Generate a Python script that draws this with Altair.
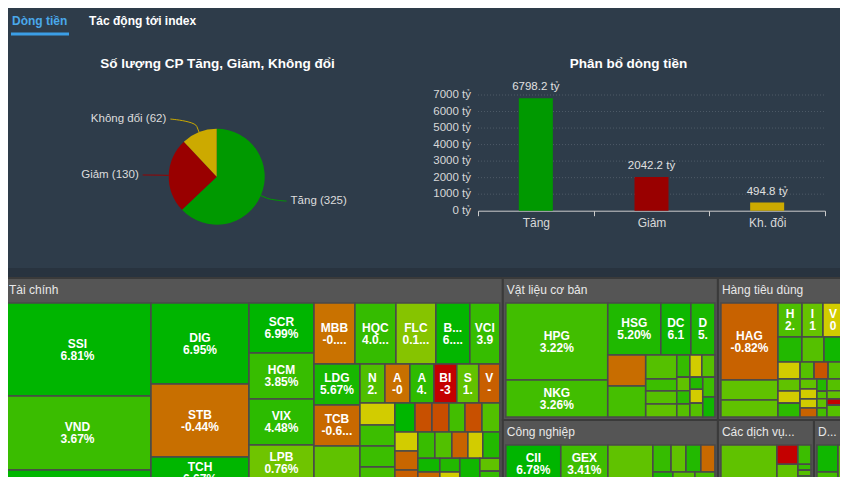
import math
import altair as alt
import pandas as pd

FONT = "Liberation Sans"
BG = "#2e3c4a"

# ---------------- data ----------------
TABS = ["Dòng tiền", "Tác động tới index"]

PIE_TITLE = "Số lượng CP Tăng, Giảm, Không đổi"
PIE_CATS = ["Tăng", "Giảm", "Không đổi"]
PIE_COUNTS = [325, 130, 62]

BAR_TITLE = "Phân bổ dòng tiền"
BAR_CATS = ["Tăng", "Giảm", "Kh. đổi"]
BAR_VALUES = [6798.2, 2042.2, 494.8]
BAR_TICKS = [0, 1000, 2000, 3000, 4000, 5000, 6000, 7000]
FLOW_COLORS = ["#009900", "#990000", "#ccaa00"]

SECTOR_NAMES = ["Tài chính", "Vật liệu cơ bản", "Hàng tiêu dùng",
                "Công nghiệp", "Các dịch vụ...", "D..."]
SECTOR_GROUPS = ("h", [0, ("v", [("h", [1, 2]), ("h", [3, 4, 5])])])

TC_LABELS = ["SSI\n6.81%", "VND\n3.67%", "", "DIG\n6.95%", "STB\n-0.44%", "TCH\n6.67%", "",
             "SCR\n6.99%", "HCM\n3.85%", "VIX\n4.48%", "LPB\n0.76%", "",
             "MBB\n-0....", "HQC\n4.0...", "FLC\n0.1...", "B...\n6....", "VCI\n3.9",
             "LDG\n5.67%", "TCB\n-0.6...", "",
             "N\n2.", "A\n-0", "A\n4.", "BI\n-3", "S\n1.", "V\n-"] + [""] * 30
TC_PCT = [6.81, 3.67, 6.5, 6.95, -0.44, 6.67, 3.0, 6.99, 3.85, 4.48, 0.76, 3.0,
          -0.3, 4.0, 0.1, 6.4, 3.9, 5.67, -0.6, 1.5, 2.4, -0.4, 4.4, -3.0, 1.4, -0.9,
          0.0, 3.5, 3.6, 3.0,
          6.5, -1.3, -1.4, 3.2, -1.3, 2.2,
          0.0, -0.7, -0.9, 3.0,
          3.8, 2.2, -0.8, 0.0, 5.0,
          6.0, -0.6, 3.0, 5.0, 0.0, 2.0, 6.0, 2.5, 1.5, 4.0, 3.0]
TC_VALUES = [153.1, 121.8, 156.4, 88.9, 80.1, 35.1, 83.4, 36.4, 33.5, 33.5, 26.2, 61.2,
             28.0, 28.0, 27.3, 23.2, 20.5, 21.1, 21.1, 61.3,
             10.9, 10.9, 10.5, 10.0, 9.6, 9.2,
             8.6, 8.2, 8.2, 38.4,
             6.5, 5.5, 5.5, 5.2, 5.5, 5.8,
             4.9, 4.9, 4.6, 19.8,
             5.0, 5.0, 4.7, 4.4, 5.0,
             3.4, 3.2, 19.7, 3.1, 2.7, 18.1, 5.6, 18.4, 2.9, 3.1, 17.9]
TC_GROUPS = ("h", [
    ("v", [0, 1, 2]),
    ("v", [3, 4, 5, 6]),
    ("v", [7, 8, 9, 10, 11]),
    ("v", [
        ("h", [12, 13, 14, 15, 16]),
        ("h", [
            ("v", [17, 18, 19]),
            ("v", [
                ("h", [20, 21, 22, 23, 24, 25]),
                ("h", [
                    ("v", [26, 27, 28, 29]),
                    ("v", [
                        ("h", [30, 31, 32, 33, 34, 35]),
                        ("h", [
                            ("v", [36, 37, 38, 39]),
                            ("v", [
                                ("h", [40, 41, 42, 43, 44]),
                                ("h", [("v", [45, 46, 47]), ("v", [48, 49, 50]),
                                       ("v", [51, 52]), ("v", [53, 54, 55])]),
                            ]),
                        ]),
                    ]),
                ]),
            ]),
        ]),
    ]),
])

VL_LABELS = ["HPG\n3.22%", "NKG\n3.26%", "HSG\n5.20%", "DC\n6.1", "D\n5."] + [""] * 17
VL_PCT = [3.22, 3.26, 5.20, 6.1, 5.5, -0.5, 3.0, 2.0, 3.5, 2.0, 1.5, 4.0, 0.0, 2.0,
          1.5, 4.5, 2.0, 5.0, 0.0, 2.0, 3.5, 6.0]
VL_VALUES = [100.6, 48.3, 35.3, 20.0, 16.0, 15.1, 15.1, 9.5, 4.8, 5.2, 5.2, 3.7, 3.4, 3.7,
             2.3, 2.2, 2.2, 2.0, 2.3, 2.3, 3.1, 3.1]
VL_GROUPS = ("h", [("v", [0, 1]),
                   ("v", [("h", [2, 3, 4]),
                          ("h", [("v", [5, 6]), ("v", [7, 8, 9, 10]),
                                 ("v", [("h", [11, 12, 13]),
                                        ("h", [("v", [14, 15, 16]), ("v", [17, 18, 19]),
                                               ("v", [20, 21])])])])])])

HT_LABELS = ["HAG\n-0.82%", "", "", "H\n2.", "I\n1", "V\n0"] + [""] * 22
HT_PCT = [-0.82, 1.5, 1.5, 2.5, 1.2, 0.0, 5.0, 2.0, 6.0, 0.0, 2.0, -1.2, 2.0,
          1.5, 0.0, 4.5, 1.5, 0.0, 0.0, -0.8, 5.0, 2.0, 1.5, 3.0, 2.0, 1.5, -3.0, 2.0]
HT_VALUES = [57.4, 14.9, 12.7, 10.7, 9.3, 8.9, 7.8, 7.2, 6.2, 4.9, 3.1, 3.1, 3.3,
             3.5, 3.5, 4.0, 2.2, 2.2, 2.0, 2.0, 1.6, 1.0, 1.2, 1.2, 2.5, 1.7, 1.3, 2.5]
HT_GROUPS = ("h", [("v", [0, 1, 2]),
                   ("v", [("h", [3, 4, 5]), ("h", [6, 7, 8]), ("h", [9, 10, 11, 12]),
                          ("h", [("v", [13, 14, 15]),
                                 ("h", [("v", [16, 17, 18, 19]), ("v", [20, 21, 22, 23]),
                                        ("v", [24, 25, 26, 27])])])])])

CN_LABELS = ["CII\n6.78%", "GEX\n3.41%"] + [""] * 13
CN_PCT = [6.78, 3.41, 5.0, 2.0, 1.5, 3.0, 4.0, 1.5, 5.0, -0.6, 5.5, 2.0, 2.0, 4.0, 3.0]
CN_VALUES = [26.5, 22.7, 52.0, 54.1, 22.8, 45.7, 6.2, 5.1, 5.1, 4.8, 3.0, 20.6, 2.8, 23.2, 23.6]
CN_GROUPS = ("h", [("v", [("h", [0, 1]), ("h", [2, 3])]),
                   ("v", [4, 5]),
                   ("v", [("h", [6, 7, 8, 9]), ("h", [("v", [10, 11]), ("v", [12, 13]), 14])])])

DV_LABELS = [""] * 8
DV_PCT = [1.5, -3.0, 3.5, 1.5, 4.0, 2.0, 5.0, 2.0]
DV_VALUES = [88.4, 5.3, 3.3, 27.9, 1.0, 1.0, 1.0, 14.2]
DV_GROUPS = ("h", [0, ("v", [("h", [1, 2]), ("h", [3, ("v", [4, 5, 6, 7])])])])

DD_LABELS = ["", "", ""]
DD_PCT = [6.0, 3.0, 2.0]
DD_VALUES = [8.6, 29.7, 9.1]
DD_GROUPS = ("h", [("v", [0, 1]), 2])

PCT_STOPS = [-3.0, -1.3, -0.4, -0.05, 0.0, 0.1, 0.8, 2.0, 3.5, 5.0, 6.5]
PCT_COLORS = ["#c40000", "#c85000", "#c87000", "#cc7800", "#d2cc00", "#86c400",
              "#6ec400", "#55c000", "#3cbe00", "#22b900", "#00b600"]

# ---------------- layout helpers ----------------
W, H = 832, 469            # chart size (page minus 8px margin)
TM_W, TM_H = 845, 290      # treemap own unit box
TM_X0 = -7                 # treemap box left edge in chart pixels


def tree_sum(node, vals):
    if isinstance(node, int):
        return vals[node]
    return sum(tree_sum(k, vals) for k in node[1])


def place(node, vals, x, y, w, h, out):
    if isinstance(node, int):
        out[node] = (x, y, w, h)
        return
    d, kids = node
    tot = tree_sum(node, vals)
    acc = 0.0
    for k in kids:
        f = tree_sum(k, vals) / tot
        if d == "h":
            place(k, vals, x + acc * w, y, f * w, h, out)
        else:
            place(k, vals, x, y + acc * h, w, f * h, out)
        acc += f


sectors = [
    (TC_LABELS, TC_PCT, TC_VALUES, TC_GROUPS),
    (VL_LABELS, VL_PCT, VL_VALUES, VL_GROUPS),
    (HT_LABELS, HT_PCT, HT_VALUES, HT_GROUPS),
    (CN_LABELS, CN_PCT, CN_VALUES, CN_GROUPS),
    (DV_LABELS, DV_PCT, DV_VALUES, DV_GROUPS),
    (DD_LABELS, DD_PCT, DD_VALUES, DD_GROUPS),
]
sec_vals = [sum(s[2]) for s in sectors]
sec_pos = {}
place(SECTOR_GROUPS, sec_vals, 0, 0, TM_W, TM_H, sec_pos)

frame_rows, head_rows, tile_rows = [], [], []
for i, (labs, pcts, vals, groups) in enumerate(sectors):
    sx, sy, sw, sh = sec_pos[i]
    frame_rows.append({"x0": sx, "x1": sx + sw, "y0": sy, "y1": sy + sh})
    # keep header text inside the visible page area
    head_rows.append({"hx": max(sx + 4, 1 - TM_X0), "hy": sy + 12, "name": SECTOR_NAMES[i]})
    tp = {}
    place(groups, vals, sx + 3, sy + 25, sw - 6, sh - 28, tp)
    for j in range(len(vals)):
        x, y, w, h = tp[j]
        tile_rows.append({"x0": x, "x1": x + w, "y0": y, "y1": y + h,
                          "cx": x + w / 2, "cy": y + h / 2,
                          "pct": pcts[j], "label": labs[j]})

frames_df = pd.DataFrame(frame_rows)
heads_df = pd.DataFrame(head_rows)
tiles_df = pd.DataFrame(tile_rows)
labels_df = tiles_df[tiles_df["label"] != ""]

# pie geometry (chart pixel space)
CX, CY, R = 208.7, 168.7, 48
conn_rows, plab_rows = [], []
tot = sum(PIE_COUNTS)
cum = 0
for cat, c in zip(PIE_CATS, PIE_COUNTS):
    mid = (cum + c / 2) / tot * 2 * math.pi
    cum += c
    sx, sy = math.sin(mid), -math.cos(mid)
    left = sx < 0
    sgn = -1 if left else 1
    tx, ty = CX + R * sx, CY + R * sy
    bx, by = CX + (R + 6) * sx, CY + (R + 6) * sy
    ly = CY + (R + 14) * sy
    rr = R + 26
    ex = CX + sgn * math.cos(math.asin(max(-1, min(1, (ly - CY) / rr)))) * rr
    c2x, c2y = 2 * bx - tx, 2 * by - ty
    k = 0
    for s in range(13):
        t = s / 12
        px = (1 - t) ** 3 * ex + 3 * (1 - t) ** 2 * t * ex + 3 * (1 - t) * t ** 2 * c2x + t ** 3 * bx
        py = (1 - t) ** 3 * ly + 3 * (1 - t) ** 2 * t * ly + 3 * (1 - t) * t ** 2 * c2y + t ** 3 * by
        conn_rows.append({"cat": cat, "k": k, "x": px, "y": py})
        k += 1
    conn_rows.append({"cat": cat, "k": k, "x": tx, "y": ty})
    plab_rows.append({"cat": cat, "side": "L" if left else "R",
                      "x": ex + sgn * 4, "y": ly, "text": f"{cat} ({c})"})
conn_df = pd.DataFrame(conn_rows)
plab_df = pd.DataFrame(plab_rows)

# ---------------- charts ----------------
one = pd.DataFrame({"k": [0]})


def deco_rect(x0, x1, y0, y1, color):
    return alt.Chart(one).mark_rect(color=color).encode(
        x=alt.value(x0), x2=alt.value(x1), y=alt.value(y0), y2=alt.value(y1))


def deco_text(txt, x, y, **kw):
    return alt.Chart(pd.DataFrame({"t": [txt]})).mark_text(font=FONT, **kw).encode(
        text="t:N", x=alt.value(x), y=alt.value(y))


strip = deco_rect(0, W, 260, 270, "#28333f")
tm_bg = deco_rect(0, W, 269, H, "#3a3a3a")
underline = deco_rect(3, 61, 24.5, 27.5, "#3b9ee6")
tab1 = deco_text(TABS[0], 4, 12.5, align="left", baseline="middle", fontSize=12,
                 fontWeight="bold", color="#4aa8ea")
tab2 = deco_text(TABS[1], 81, 12.5, align="left", baseline="middle", fontSize=12,
                 fontWeight="bold", color="#ffffff")
t_pie = deco_text(PIE_TITLE, 209.5, 56, align="center", baseline="middle", fontSize=13.5,
                  fontWeight="bold", color="#ffffff")
t_bar = deco_text(BAR_TITLE, 620.5, 56, align="center", baseline="middle", fontSize=13.5,
                  fontWeight="bold", color="#ffffff")

# pie
pie_df = pd.DataFrame({"cat": PIE_CATS, "n": PIE_COUNTS, "idx": [0, 1, 2]})
pie = alt.Chart(pie_df).mark_arc(radius=R).encode(
    theta=alt.Theta("n:Q", stack=True),
    color=alt.Color("cat:N", scale=alt.Scale(domain=PIE_CATS, range=FLOW_COLORS), legend=None),
    order=alt.Order("idx:Q"),
    x=alt.value(CX), y=alt.value(CY))

px_x = alt.Scale(domain=[0, W], range=[0, W], nice=False, zero=False)
px_y = alt.Scale(domain=[0, H], range=[0, H], nice=False, zero=False)
conn = alt.Chart(conn_df).mark_line(strokeWidth=1).encode(
    x=alt.X("x:Q", scale=px_x, axis=None),
    y=alt.Y("y:Q", scale=px_y, axis=None),
    color=alt.Color("cat:N", scale=alt.Scale(domain=PIE_CATS, range=FLOW_COLORS), legend=None),
    detail="cat:N", order="k:Q")
plab_l = alt.Chart(plab_df).transform_filter("datum.side == 'L'").mark_text(
    align="right", baseline="middle", font=FONT, fontSize=11.5, color="#dddddd").encode(
    x=alt.X("x:Q", scale=px_x, axis=None), y=alt.Y("y:Q", scale=px_y, axis=None), text="text:N")
plab_r = alt.Chart(plab_df).transform_filter("datum.side == 'R'").mark_text(
    align="left", baseline="middle", font=FONT, fontSize=11.5, color="#dddddd").encode(
    x=alt.X("x:Q", scale=px_x, axis=None), y=alt.Y("y:Q", scale=px_y, axis=None), text="text:N")
pie_ann = alt.layer(conn, plab_l, plab_r)

# bar chart
bar_df = pd.DataFrame({"cat": BAR_CATS, "v": BAR_VALUES,
                       "lab": [f"{v:.1f} tỷ" for v in BAR_VALUES]})
xs = alt.Scale(domain=BAR_CATS, range=[470, 817], paddingInner=0, paddingOuter=0)
ys = alt.Scale(domain=[0, 7000], range=[202.7, 87], nice=False, zero=True)
X_AXIS = alt.Axis(title=None, orient="bottom", offset=202.7 - H, labelAngle=0,
                  labelColor="#d8d8d8", labelFontSize=12, labelFont=FONT,
                  labelPadding=2, domainColor="#cccccc", tickColor="#cccccc",
                  tickSize=5, tickBand="extent", grid=False)
tick_df = pd.DataFrame({"t": BAR_TICKS})
grid = alt.Chart(tick_df).transform_filter("datum.t > 0").mark_rule(
    color="#4e5a67", strokeDash=[1, 2], strokeWidth=1).encode(
    y=alt.Y("t:Q", scale=ys, axis=None), x=alt.value(470), x2=alt.value(817))
ylabels = alt.Chart(tick_df).transform_calculate(lab="datum.t + ' tỷ'").mark_text(
    align="right", baseline="middle", font=FONT, fontSize=11.5, color="#d8d8d8").encode(
    y=alt.Y("t:Q", scale=ys, axis=None), x=alt.value(463), text="lab:N")
bars = alt.Chart(bar_df).mark_bar(size=34).encode(
    x=alt.X("cat:N", scale=xs, sort=BAR_CATS, axis=X_AXIS),
    y=alt.Y("v:Q", scale=ys, axis=None),
    color=alt.Color("cat:N", scale=alt.Scale(domain=BAR_CATS, range=FLOW_COLORS), legend=None))
blab = alt.Chart(bar_df).mark_text(dy=-11, font=FONT, fontSize=11.5, color="#e0e0e0").encode(
    x=alt.X("cat:N", scale=xs, sort=BAR_CATS, axis=X_AXIS),
    y=alt.Y("v:Q", scale=ys, axis=None), text="lab:N")
bar_group = alt.layer(grid, ylabels, bars, blab)

# treemap
tx = alt.Scale(domain=[0, TM_W], range=[TM_X0, TM_X0 + TM_W], nice=False, zero=False)
ty = alt.Scale(domain=[0, TM_H], range=[270, 560], nice=False, zero=False)
frames = alt.Chart(frames_df).mark_rect(fill="#555555", stroke="#3a3a3a", strokeWidth=2).encode(
    x=alt.X("x0:Q", scale=tx, axis=None), x2="x1:Q",
    y=alt.Y("y0:Q", scale=ty, axis=None), y2="y1:Q")
heads = alt.Chart(heads_df).mark_text(align="left", baseline="middle", font=FONT, fontSize=12,
                                      color="#e8e8e8").encode(
    x=alt.X("hx:Q", scale=tx, axis=None), y=alt.Y("hy:Q", scale=ty, axis=None), text="name:N")
tiles = alt.Chart(tiles_df).mark_rect(stroke="#4a4a4a", strokeWidth=1.6).encode(
    x=alt.X("x0:Q", scale=tx, axis=None), x2="x1:Q",
    y=alt.Y("y0:Q", scale=ty, axis=None), y2="y1:Q",
    color=alt.Color("pct:Q", scale=alt.Scale(domain=PCT_STOPS, range=PCT_COLORS), legend=None))
tlabs = alt.Chart(labels_df).mark_text(font=FONT, fontSize=12, fontWeight="bold", color="white",
                                       lineBreak="\n", lineHeight=12, baseline="middle",
                                       dy=-6).encode(
    x=alt.X("cx:Q", scale=tx, axis=None), y=alt.Y("cy:Q", scale=ty, axis=None), text="label:N")
treemap = alt.layer(frames, tiles, tlabs, heads)

chart = alt.layer(
    strip, tm_bg, underline, tab1, tab2, t_pie, t_bar,
    pie, pie_ann, bar_group, treemap
).resolve_scale(
    x="independent", y="independent", color="independent", theta="independent"
).properties(
    width=W, height=H, padding=0, background=BG,
    autosize=alt.AutoSizeParams(type="none")
).configure_view(stroke=None)

chart.save("out.html", embed_options={"renderer": "svg", "actions": False})
